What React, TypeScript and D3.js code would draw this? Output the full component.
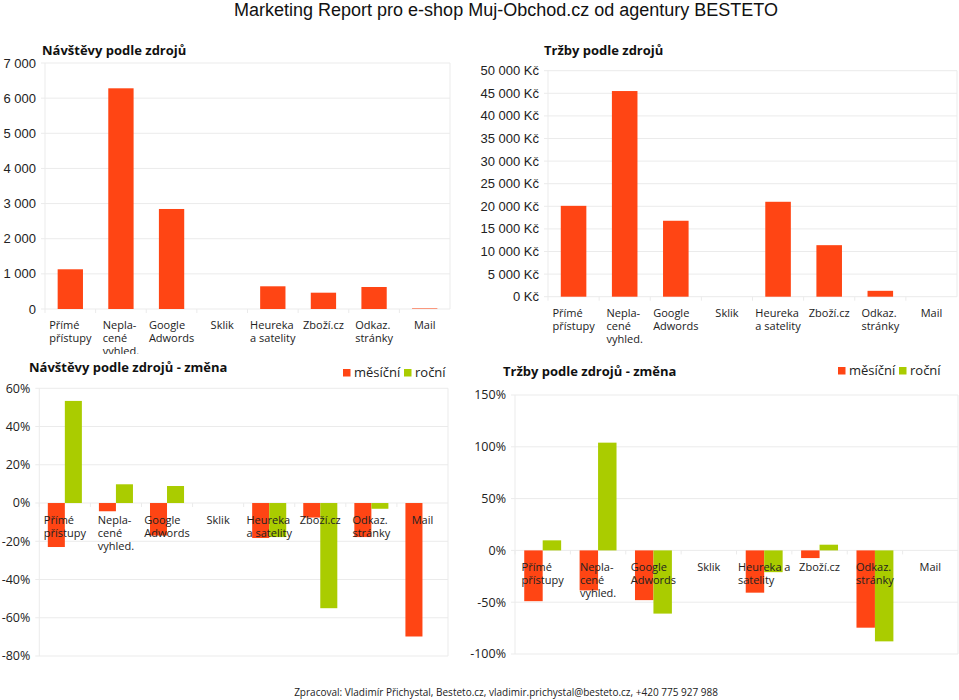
import React from "react";
import * as d3 from "d3";

const mainTitle = "Marketing Report pro e-shop Muj-Obchod.cz od agentury BESTETO";
const footer = "Zpracoval: Vladimír Přichystal, Besteto.cz, vladimir.prichystal@besteto.cz, +420 775 927 988";

const categories = ["Přímé přístupy", "Neplacené vyhled.", "Google Adwords", "Sklik", "Heureka a satelity", "Zboží.cz", "Odkaz. stránky", "Mail"];
const labelLines = [["Přímé", "přístupy"], ["Nepla-", "cené", "vyhled."], ["Google", "Adwords"], ["Sklik"], ["Heureka", "a satelity"], ["Zboží.cz"], ["Odkaz.", "stránky"], ["Mail"]];
const labelLinesAlt = [["Přímé", "přístupy"], ["Nepla-", "cené", "vyhled."], ["Google", "Adwords"], ["Sklik"], ["Heureka a", "satelity"], ["Zboží.cz"], ["Odkaz.", "stránky"], ["Mail"]];

const visits = [1130, 6280, 2846, 0, 646, 464, 626, 15];
const revenue = [20100, 45500, 16800, 0, 21000, 11400, 1300, 0];
const visitsMonthly = [-23, -4.3, -17, 0, -18.3, -7.6, -17.8, -69.8];
const visitsYearly = [53.4, 9.8, 8.9, 0, -17.8, -55, -3, 0];
const revenueMonthly = [-49, -38.6, -48, 0, -40.8, -7.4, -74.6, 0];
const revenueYearly = [9.7, 104, -61, 0, -21, 5.5, -87.8, 0];

const visitTicks = [0, 1000, 2000, 3000, 4000, 5000, 6000, 7000];
const revenueTicks = [0, 5000, 10000, 15000, 20000, 25000, 30000, 35000, 40000, 45000, 50000];
const visitChangeTicks = [-80, -60, -40, -20, 0, 20, 40, 60];
const revenueChangeTicks = [-100, -50, 0, 50, 100, 150];
const seriesNames = ["měsíční", "roční"];

const ORANGE = "#FF4514";
const GREEN = "#AACC00";
const GRID = "#ebebeb";
const TEXT = "#222";
const SEGOE = "'Open Sans', 'Noto Sans', sans-serif";
const ARIAL = "'Liberation Sans', Arial, sans-serif";

let ctx: CanvasRenderingContext2D | null = null;
function measure(text: string, font: string) {
  if (!ctx) ctx = document.createElement("canvas").getContext("2d");
  if (!ctx) return text.length * 6;
  ctx.font = font;
  return ctx.measureText(text).width;
}

const fmtThousands = (v: number) => d3.format(",")(v).replace(/,/g, " ");

type ChartProps = {
  x0: number; x1: number; y0: number; y1: number;
  domain: [number, number];
  ticks: number[];
  tickFmt: (v: number) => string;
  tickFont: string; tickSize: number;
  series: number[][];
  colors: string[];
  lines: string[][];
  title: string; titleX: number; titleY: number;
  labelOffset: number;
  clipBottom?: number;
  id: string;
  legend?: { x: number; y: number };
};

function Chart(p: ChartProps) {
  const x = d3.scaleBand<string>().domain(categories).range([p.x0, p.x1]).padding(0);
  const y = d3.scaleLinear().domain(p.domain).range([p.y1, p.y0]);
  const bw = x.bandwidth();
  const n = p.series.length;
  const barW = n === 1 ? bw * 0.5 : bw / 3;
  const startOff = n === 1 ? bw * 0.25 : bw / 6;
  const zero = y(0);
  const labelFont = `11px ${SEGOE}`;
  return (
    <g>
      {p.clipBottom !== undefined && (
        <defs>
          <clipPath id={p.id}>
            <rect x={0} y={0} width={959} height={p.clipBottom} />
          </clipPath>
        </defs>
      )}
      <g clipPath={p.clipBottom !== undefined ? `url(#${p.id})` : undefined}>
        <text x={p.titleX} y={p.titleY} fontFamily={SEGOE} fontWeight={700} fontSize={13} fill="#111">{p.title}</text>
        {p.ticks.map((t) => (
          <g key={t}>
            <line x1={p.x0 - 4} x2={p.x1} y1={y(t)} y2={y(t)} stroke={GRID} strokeWidth={1} />
            <text x={p.x0 - 9} y={y(t)} dy="0.35em" textAnchor="end" fontFamily={p.tickFont} fontSize={p.tickSize} fill={TEXT}>{p.tickFmt(t)}</text>
          </g>
        ))}
        <line x1={p.x0} x2={p.x0} y1={p.y0} y2={p.y1} stroke={GRID} />
        <line x1={p.x1} x2={p.x1} y1={p.y0} y2={p.y1} stroke={GRID} />
        {categories.map((c) => (
          <line key={c} x1={(x(c) as number)} x2={(x(c) as number)} y1={zero} y2={zero + 4} stroke={GRID} />
        ))}
        {p.series.map((vals, si) =>
          vals.map((v, i) => {
            const c = categories[i];
            const bx = (x(c) as number) + startOff + si * barW;
            const top = Math.min(y(v), zero);
            const h = Math.abs(y(v) - zero);
            return <rect key={`${si}-${i}`} x={bx} y={top} width={barW} height={Math.max(h, 0)} fill={p.colors[si]} />;
          })
        )}
        {p.lines.map((ls, i) => {
          const c = categories[i];
          const cx = (x(c) as number) + bw / 2;
          const maxW = Math.max(...ls.map((l) => measure(l, labelFont)));
          const lx = cx - maxW / 2;
          return (
            <text key={c} x={lx} y={zero + p.labelOffset} fontFamily={SEGOE} fontSize={11} fill={TEXT}>
              {ls.map((l, li) => (
                <tspan key={li} x={lx} y={zero + p.labelOffset + li * 13}>{l}</tspan>
              ))}
            </text>
          );
        })}
        {p.legend && (
          <g>
            {seriesNames.map((s, si) => {
              const off = si === 0 ? 0 : 61;
              return (
                <g key={s}>
                  <rect x={p.legend!.x + off} y={p.legend!.y - 8} width={7.5} height={7.5} fill={p.colors[si]} />
                  <text x={p.legend!.x + off + 11} y={p.legend!.y} fontFamily={SEGOE} fontSize={13} fill={TEXT}>{s}</text>
                </g>
              );
            })}
          </g>
        )}
      </g>
    </g>
  );
}

export default function App() {
  return (
    <svg width={959} height={700} style={{ position: "absolute", left: 0, top: 0, background: "#fff" }}>
      <rect x={0} y={0} width={959} height={700} fill="#fff" />
      <text x={506} y={16} textAnchor="middle" fontFamily={ARIAL} fontSize={18} fill="#111">{mainTitle}</text>
      <Chart id="c1" x0={45} x1={450} y0={63} y1={309} domain={[0, 7000]} ticks={visitTicks} tickFmt={fmtThousands}
        tickFont={ARIAL} tickSize={13} series={[visits]} colors={[ORANGE]} lines={labelLines}
        title="Návštěvy podle zdrojů" titleX={42} titleY={55} labelOffset={20} clipBottom={354} />
      <Chart id="c2" x0={548} x1={957} y0={70.7} y1={296.7} domain={[0, 50000]} ticks={revenueTicks}
        tickFmt={(v) => `${fmtThousands(v)} Kč`} tickFont={ARIAL} tickSize={13} series={[revenue]} colors={[ORANGE]} lines={labelLines}
        title="Tržby podle zdrojů" titleX={544} titleY={55} labelOffset={20} />
      <Chart id="c3" x0={39.3} x1={448} y0={388.3} y1={656} domain={[-80, 60]} ticks={visitChangeTicks}
        tickFmt={(v) => `${v}%`} tickFont={SEGOE} tickSize={12.5} series={[visitsMonthly, visitsYearly]} colors={[ORANGE, GREEN]} lines={labelLines}
        title="Návštěvy podle zdrojů - změna" titleX={29} titleY={372} labelOffset={20.5} legend={{ x: 343, y: 377 }} />
      <Chart id="c4" x0={515} x1={958} y0={395} y1={654} domain={[-100, 150]} ticks={revenueChangeTicks}
        tickFmt={(v) => `${v}%`} tickFont={SEGOE} tickSize={12.5} series={[revenueMonthly, revenueYearly]} colors={[ORANGE, GREEN]} lines={labelLinesAlt}
        title="Tržby podle zdrojů - změna" titleX={503} titleY={376} labelOffset={21} legend={{ x: 838, y: 375 }} />
      <text x={506} y={696} textAnchor="middle" fontFamily={SEGOE} fontSize={10} fill={TEXT}>{footer}</text>
    </svg>
  );
}
